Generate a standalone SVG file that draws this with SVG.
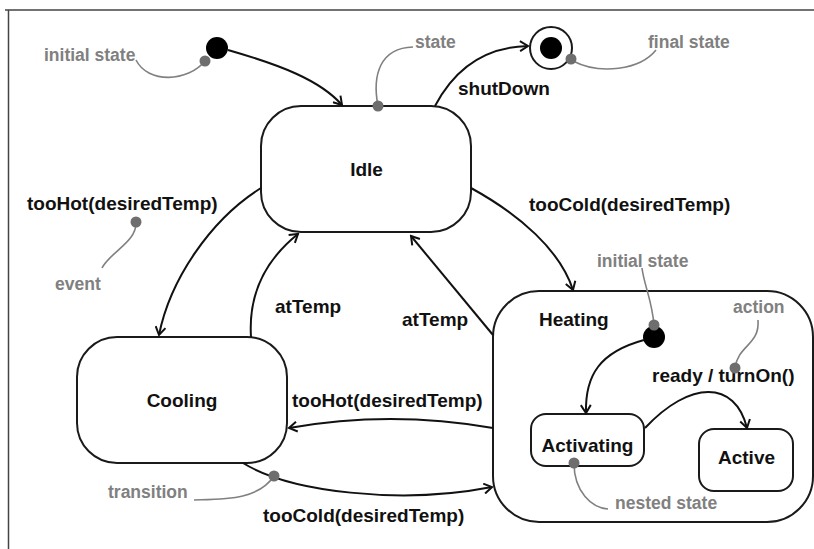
<svg xmlns="http://www.w3.org/2000/svg" width="814" height="549" viewBox="0 0 814 549">
<style>
  .box{fill:#fff;stroke:#1a1a1a;stroke-width:2}
  .lbl{font-family:"Liberation Sans",Arial,sans-serif;font-weight:bold;font-size:19px;fill:#111}
  .nm{font-family:"Liberation Sans",Arial,sans-serif;font-weight:bold;font-size:19px;fill:#111;text-anchor:middle}
  .note{font-family:"Liberation Sans",Arial,sans-serif;font-weight:bold;font-size:17.5px;fill:#808080}
  .conn{fill:none;stroke:#111;stroke-width:2;marker-end:url(#arr)}
  .ann{fill:none;stroke:#808080;stroke-width:1.6}
  .dot{fill:#6e6e6e}
</style>
<defs>
  <marker id="arr" markerWidth="12" markerHeight="12" refX="10" refY="6" orient="auto" markerUnits="userSpaceOnUse">
    <path d="M2,1 L10,6 L2,11" fill="none" stroke="#111" stroke-width="2"/>
  </marker>
</defs>
<rect width="814" height="549" fill="#fff"/>
<path d="M5,10 H814 M8.5,10 V549" fill="none" stroke="#444" stroke-width="1.5"/>

<g id="initial">
  <circle cx="217" cy="48" r="11" fill="#000"/>
</g>
<g id="final">
  <circle cx="551" cy="48" r="21" fill="#fff" stroke="#1a1a1a" stroke-width="2"/>
  <circle cx="551" cy="48" r="11" fill="#000"/>
</g>
<g id="idle">
  <rect class="box" x="261" y="106" width="210" height="126" rx="40"/>
  <text class="nm" x="366.5" y="176">Idle</text>
</g>
<g id="cooling">
  <rect class="box" x="77" y="337" width="210" height="126" rx="40"/>
  <text class="nm" x="182" y="407">Cooling</text>
</g>
<g id="heating">
  <rect class="box" x="493" y="291" width="320" height="231" rx="46"/>
  <text class="lbl" x="539" y="326">Heating</text>
</g>
<g id="heating-initial">
  <circle cx="654" cy="337" r="11" fill="#000"/>
</g>
<g id="activating">
  <rect class="box" x="531" y="414" width="113" height="52" rx="15"/>
  <text class="nm" x="587.5" y="452">Activating</text>
</g>
<g id="active">
  <rect class="box" x="699" y="429" width="94" height="62" rx="15"/>
  <text class="nm" x="746.5" y="464">Active</text>
</g>

<g id="connectors">
  <path class="conn" d="M228,50 C280,65 320,80 342,105"/>
  <path class="conn" d="M435,106 C455,68 485,47 528,46"/>
  <path class="conn" d="M261,188 C210,220 170,280 159,335"/>
  <path class="conn" d="M251,337 C248,290 268,258 298,234"/>
  <path class="conn" d="M471,188 C520,215 560,250 573,290"/>
  <path class="conn" d="M493,335 L411,236"/>
  <path class="conn" d="M493,428 Q390,410 289,428"/>
  <path class="conn" d="M243,463 C290,492 400,505 492,487"/>
  <path class="conn" d="M644,340 C600,352 585,375 586,413"/>
  <path class="conn" d="M645,428 C690,380 735,380 747,428"/>
  <text class="lbl" x="458" y="95">shutDown</text>
  <text class="lbl" x="27" y="210">tooHot(desiredTemp)</text>
  <text class="lbl" x="529" y="211">tooCold(desiredTemp)</text>
  <text class="lbl" x="275" y="313">atTemp</text>
  <text class="lbl" x="402" y="326">atTemp</text>
  <text class="lbl" x="292" y="407">tooHot(desiredTemp)</text>
  <text class="lbl" x="263" y="522">tooCold(desiredTemp)</text>
  <text class="lbl" x="652" y="382">ready / turnOn()</text>
</g>

<g id="annotations">
  <path class="ann" d="M136,60 C148,84 188,82 205,61"/>
  <path class="ann" d="M378,106 C372,75 380,48 413,47"/>
  <path class="ann" d="M573,61 C600,75 640,70 656,50"/>
  <path class="ann" d="M136,222 C137,242 110,252 102,268"/>
  <path class="ann" d="M274,476 C258,500 225,499 194,500"/>
  <path class="ann" d="M654,325 C652,300 644,285 642,268"/>
  <path class="ann" d="M758,320 C760,345 738,345 735,368"/>
  <path class="ann" d="M574,463 C574,492 592,508 608,509"/>
  <circle class="dot" cx="205" cy="61" r="5.5"/>
  <circle class="dot" cx="378" cy="106" r="5.5"/>
  <circle class="dot" cx="571" cy="59" r="5.5"/>
  <circle class="dot" cx="136" cy="222" r="5.5"/>
  <circle class="dot" cx="274" cy="476" r="5.5"/>
  <circle class="dot" cx="654" cy="325" r="5.5"/>
  <circle class="dot" cx="735" cy="368" r="5.5"/>
  <circle class="dot" cx="574" cy="463" r="5.5"/>
  <text class="note" x="44" y="61">initial state</text>
  <text class="note" x="415" y="48">state</text>
  <text class="note" x="648" y="48">final state</text>
  <text class="note" x="55" y="290">event</text>
  <text class="note" x="108" y="498">transition</text>
  <text class="note" x="597" y="267">initial state</text>
  <text class="note" x="733" y="313">action</text>
  <text class="note" x="615" y="509">nested state</text>
</g>
</svg>
